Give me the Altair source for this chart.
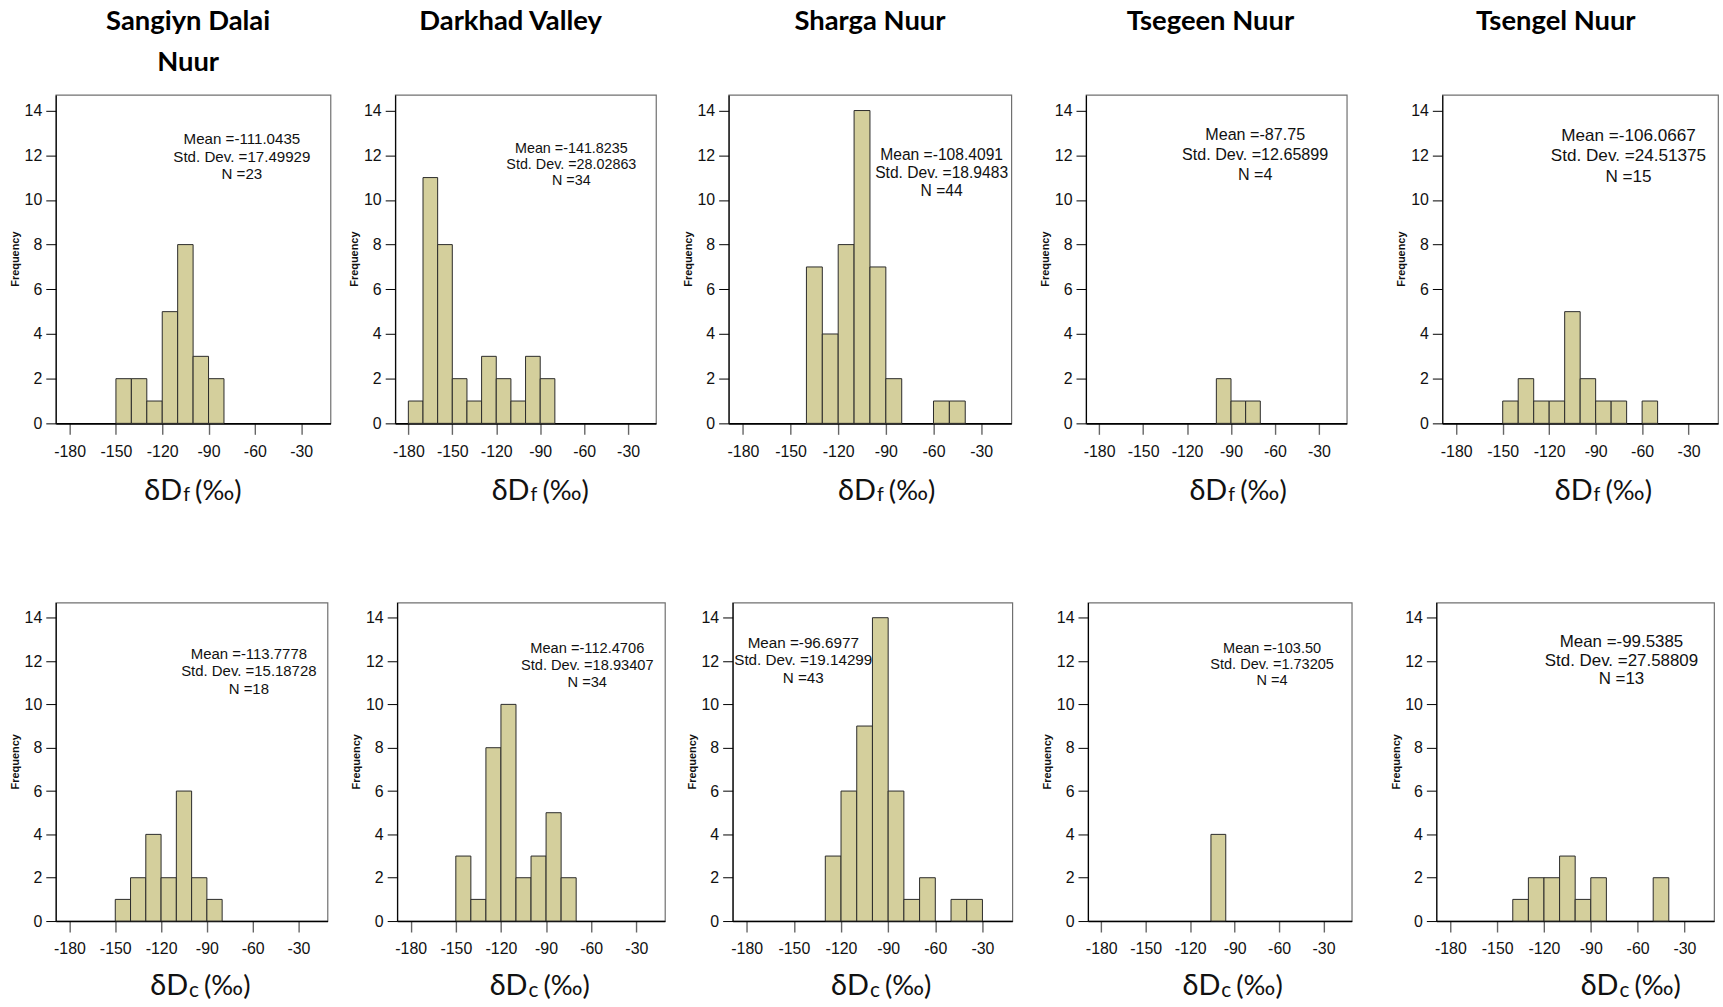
import altair as alt
import pandas as pd

# ---------------------------------------------------------------- data
TITLE_LINES = [["Sangiyn Dalai", "Nuur"], ["Darkhad Valley"], ["Sharga Nuur"],
               ["Tsegeen Nuur"], ["Tsengel Nuur"]]

BIN_WIDTH = 10

# δDf histograms (lower bin edge, count)
DF_BIN_STARTS = [
    [-150, -140, -130, -120, -110, -100, -90],
    [-180, -170, -160, -150, -140, -130, -120, -110, -100, -90],
    [-140, -130, -120, -110, -100, -90, -60, -50],
    [-100, -90, -80],
    [-150, -140, -130, -120, -110, -100, -90, -80, -60],
]
DF_COUNTS = [
    [2, 2, 1, 5, 8, 3, 2],
    [1, 11, 8, 2, 1, 3, 2, 1, 3, 2],
    [7, 4, 8, 14, 7, 2, 1, 1],
    [2, 1, 1],
    [1, 2, 1, 1, 5, 2, 1, 1, 1],
]
DF_MEAN = ["-111.0435", "-141.8235", "-108.4091", "-87.75", "-106.0667"]
DF_STD = ["17.49929", "28.02863", "18.9483", "12.65899", "24.51375"]
DF_N = [23, 34, 44, 4, 15]

# δDc histograms (lower bin edge, count)
DC_BIN_STARTS = [
    [-150, -140, -130, -120, -110, -100, -90],
    [-150, -140, -130, -120, -110, -100, -90, -80],
    [-130, -120, -110, -100, -90, -80, -70, -50, -40],
    [-106],
    [-140, -130, -120, -110, -100, -90, -50],
]
DC_COUNTS = [
    [1, 2, 4, 2, 6, 2, 1],
    [3, 1, 8, 10, 2, 3, 5, 2],
    [3, 6, 9, 14, 6, 1, 2, 1, 1],
    [4],
    [1, 2, 2, 3, 1, 2, 2],
]
DC_MEAN = ["-113.7778", "-112.4706", "-96.6977", "-103.50", "-99.5385"]
DC_STD = ["15.18728", "18.93407", "19.14299", "1.73205", "27.58809"]
DC_N = [18, 34, 43, 4, 13]

X_TICKS = [-180, -150, -120, -90, -60, -30]
Y_TICKS = [0, 2, 4, 6, 8, 10, 12, 14]
X_DOMAIN = [-189, -11]
Y_DOMAIN = [0, 14.7]

# ---------------------------------------------------------------- layout / style
TOP_W = [276, 262, 284, 262, 277]
TOP_H = 330
BOT_W = [273, 269, 281, 265, 279]
BOT_H = 320
TOP_GAPS = [17, 25, 27, 48]
BOT_GAPS = [22, 20, 28, 37]
ROW_GAP = 95

# stats block: centre x, first baseline y, line height, font size
TOP_STAT = [(187, 49.5, 17.5, 15.2), (177, 58, 16.5, 14.4), (214, 65.7, 18, 15.7),
            (170, 45.8, 20, 16.2), (187, 46.2, 20.5, 17.2)]
BOT_STAT = [(194, 56.4, 17.5, 15.0), (191, 50.3, 17.5, 14.7), (71, 45.5, 17.5, 15.3),
            (185, 50.3, 16.5, 14.6), (186, 45.1, 18.5, 17.0)]

TITLE_X = [133, 116, 142, 125, 114]
TOP_SUB_X = [127, 135, 148, 142, 151]
BOT_SUB_X = [133, 131, 137, 133, 183]

BAR_FILL = "#d4cf9c"
BAR_EDGE = "#2a2a2a"
SANS = "Liberation Sans"
CAL = "Lato"


def one_row(text):
    return alt.Chart(pd.DataFrame({"t": [text]}))


def panel(starts, counts, w, h, stat, mean, std, n, sub, sub_x, base_dy, title=None, title_x=None):
    bars_df = pd.DataFrame({"lo": starts, "count": counts})
    bars_df["hi"] = bars_df["lo"] + BIN_WIDTH

    bars = alt.Chart(bars_df).mark_bar(fill=BAR_FILL, stroke=BAR_EDGE, strokeWidth=1).encode(
        x=alt.X("lo:Q",
                scale=alt.Scale(domain=X_DOMAIN, nice=False, zero=False),
                axis=alt.Axis(values=X_TICKS, labelExpr="'' + datum.value", title=None, grid=False,
                              domainColor="#000", domainWidth=1.6, tickColor="#666",
                              tickWidth=1.4, tickSize=11, labelPadding=9)),
        x2="hi:Q",
        y=alt.Y("count:Q",
                scale=alt.Scale(domain=Y_DOMAIN, nice=False),
                axis=alt.Axis(values=Y_TICKS, title=None, grid=False, domainColor="#000",
                              domainWidth=1.2, tickColor="#000", tickWidth=1, tickSize=10,
                              labelPadding=4)),
        y2=alt.datum(0),
    )

    cx, cy, lh, fs = stat
    stats = one_row(f"Mean ={mean}\nStd. Dev. ={std}\nN ={n}").mark_text(
        lineBreak="\n", lineHeight=lh, fontSize=fs, font=SANS, align="center",
        baseline="alphabetic", color="#111",
    ).encode(text="t:N", x=alt.value(cx), y=alt.value(cy))

    freq = one_row("Frequency").mark_text(
        angle=270, fontSize=11, fontWeight="bold", font=SANS, align="center",
        baseline="middle", color="#111",
    ).encode(text="t:N", x=alt.value(-40), y=alt.value(h / 2))

    # axis title δD<sub> (‰), built from three pieces so the subscript can sit low
    base_y = h + base_dy
    main = one_row("δD").mark_text(
        fontSize=29, font=CAL, align="right", baseline="alphabetic", color="#111",
    ).encode(text="t:N", x=alt.value(sub_x), y=alt.value(base_y))
    if sub == "f":
        sub_mark = one_row("f").mark_text(fontSize=19.5, font=CAL, align="left",
                                          baseline="alphabetic", color="#111")
        sub_dy, paren_dx = 1, 13
    else:
        sub_mark = one_row("c").mark_text(fontSize=21, font=CAL, align="left",
                                          baseline="alphabetic", color="#111")
        sub_dy, paren_dx = 2, 16
    subscr = sub_mark.encode(text="t:N", x=alt.value(sub_x + 1), y=alt.value(base_y + sub_dy))
    paren = one_row("(‰)").mark_text(
        fontSize=27.5, font=CAL, align="left", baseline="alphabetic", color="#111",
    ).encode(text="t:N", x=alt.value(sub_x + paren_dx), y=alt.value(base_y))

    layers = [bars, stats, freq, main, subscr, paren]
    if title:
        for i, line in enumerate(title):
            layers.append(one_row(line).mark_text(
                fontSize=27.5, font=CAL, fontWeight="bold", align="center",
                baseline="alphabetic", color="#000",
            ).encode(text="t:N", x=alt.value(title_x), y=alt.value(-65 + 41 * i)))

    return alt.layer(*layers).properties(width=w, height=h)


top_panels = [
    panel(DF_BIN_STARTS[i], DF_COUNTS[i], TOP_W[i], TOP_H, TOP_STAT[i], DF_MEAN[i], DF_STD[i],
          DF_N[i], "f", TOP_SUB_X[i], 77, TITLE_LINES[i], TITLE_X[i])
    for i in range(5)
]
bot_panels = [
    panel(DC_BIN_STARTS[i], DC_COUNTS[i], BOT_W[i], BOT_H, BOT_STAT[i], DC_MEAN[i], DC_STD[i],
          DC_N[i], "c", BOT_SUB_X[i], 74)
    for i in range(5)
]


def chain(panels, gaps):
    row = panels[0]
    for p, g in zip(panels[1:], gaps):
        row = alt.hconcat(row, p, spacing=g)
    return row


chart = alt.vconcat(
    chain(top_panels, TOP_GAPS), chain(bot_panels, BOT_GAPS), spacing=ROW_GAP
).properties(
    padding={"left": 9, "top": 5, "right": 4, "bottom": 2}, background="white"
).configure_view(
    stroke="#707070", strokeWidth=1.2
).configure_axis(
    labelFont=SANS, labelFontSize=16, labelColor="#111"
)

chart.save("out.html", embed_options={"renderer": "svg", "actions": False})
